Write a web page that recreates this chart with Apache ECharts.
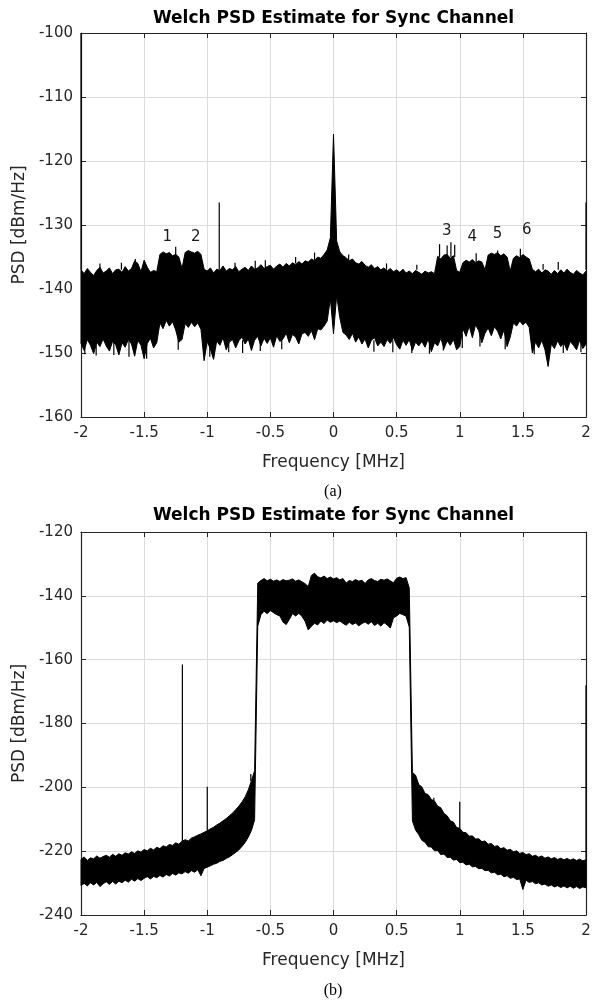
<!DOCTYPE html>
<html><head><meta charset="utf-8">
<script src="https://cdn.jsdelivr.net/npm/echarts@6/dist/echarts.min.js"></script>
<style>html,body{margin:0;padding:0;background:#fff}#c{width:594px;height:1002px}</style>
</head><body><div id="c"></div>
<script>
// ---- Data ----
// Sample frequencies: -2 .. 2 MHz every 0.025 MHz (161 samples)
const freqStart = -2, freqStep = 0.025, freqCount = 161;

// (a) upper / lower envelope of the PSD trace [dBm/Hz]
const topUpper = [
 -137.0,-137.6,-136.8,-137.4, -137.9,-137.1,-136.6,-137.5, -137.2,-136.7,-137.6,-137.0, -136.9,-137.4,-136.5,-137.2,
 -136.8,-135.6,-136.0,-137.3, -135.5,-136.6,-137.4,-137.1, -137.3,-134.6,-134.2,-134.5, -134.3,-134.8,-134.6,-135.0,
 -136.8,-134.3,-134.0,-134.2, -134.4,-134.1,-134.6,-136.9, -137.2,-136.7,-137.5,-136.9, -137.1,-136.4,-137.2,-136.8,
 -137.0,-136.5,-137.3,-136.9, -136.6,-137.1,-136.4,-136.9, -136.7,-136.2,-136.8,-136.5, -136.3,-136.9,-136.4,-136.1,
 -136.6,-136.0,-136.4,-135.9, -136.2,-135.7,-136.1,-135.6, -135.8,-135.3,-135.6,-135.0, -135.2,-134.6,-133.9,-132.0,
 -115.8,-132.5,-134.2,-134.8, -135.1,-135.6,-135.3,-135.9, -136.1,-135.7,-136.3,-136.6, -136.2,-136.8,-136.5,-137.0,
 -136.7,-137.2,-136.8,-137.3, -137.0,-137.4,-136.9,-137.5, -137.2,-137.6,-137.1,-137.4, -137.7,-137.2,-137.5,-137.3,
 -137.6,-134.9,-135.3,-134.7, -134.6,-135.2,-134.8,-137.1, -137.4,-135.9,-135.5,-135.8, -135.4,-135.9,-135.6,-135.8,
 -137.0,-134.7,-134.4,-134.6, -134.3,-134.8,-134.5,-135.0, -137.2,-135.2,-134.8,-135.1, -134.6,-135.0,-135.3,-136.9,
 -137.3,-136.9,-137.5,-137.0, -137.2,-137.7,-137.1,-137.6, -137.0,-137.5,-136.9,-137.4, -137.7,-137.1,-137.5,-137.8,
 -137.2
];
const topLower = [
 -148.5,-149.6,-147.9,-148.8, -150.1,-148.3,-149.0,-147.8, -148.9,-149.7,-148.2,-148.7, -150.3,-148.4,-149.1,-147.9,
 -148.6,-150.5,-148.0,-148.8, -150.9,-148.5,-147.7,-149.2, -148.4,-145.3,-146.2,-144.9, -145.8,-145.1,-146.4,-148.3,
 -147.9,-145.4,-146.0,-145.2, -145.9,-145.3,-146.3,-151.2, -148.2,-149.4,-151.0,-148.1, -148.8,-147.6,-149.5,-148.3,
 -147.9,-149.2,-148.1,-147.5, -148.6,-147.8,-149.6,-148.0, -147.4,-148.9,-147.7,-148.5, -147.6,-149.1,-147.3,-148.2,
 -147.8,-146.9,-148.4,-147.1, -147.5,-148.6,-147.0,-146.8, -147.4,-146.5,-147.9,-146.2, -146.4,-145.8,-145.0,-141.5,
 -147.0,-141.0,-144.5,-146.8, -147.2,-147.9,-146.9,-148.3, -147.5,-148.6,-147.8,-149.2, -148.0,-147.6,-148.9,-148.3,
 -149.0,-147.9,-148.5,-147.6, -148.7,-149.4,-148.0,-148.8, -147.9,-149.6,-148.3,-148.9, -148.2,-149.1,-147.8,-149.8,
 -148.4,-148.9,-147.7,-149.3, -148.1,-148.8,-147.9,-149.5, -149.0,-146.2,-147.4,-145.8, -147.6,-145.6,-146.5,-148.4,
 -146.9,-146.1,-147.3,-145.9, -146.6,-147.8,-146.4,-149.0, -147.5,-145.3,-145.8,-145.0, -145.6,-145.2,-146.0,-150.0,
 -148.3,-149.2,-148.0,-149.5, -152.1,-148.6,-149.3,-148.1, -149.0,-148.4,-149.6,-148.2, -148.8,-149.5,-148.0,-149.3,
 -148.6
];
// (a) isolated spikes: frequency, foot, tip
const topSpikeFreq = [-2.0, -1.57, -1.25, -0.905, -0.62, -0.54, -0.30, 0.84, 0.90, 0.93, 0.96, 1.13, 1.30, 1.48, 2.0,
  -1.85, -1.68, -0.78, -0.15, 0.12, 0.42, 0.66, 1.66, 1.78,
  -1.97, -1.88, -1.74, -1.62, -1.48, -1.23, -0.98, -0.83, -0.72, -0.58, -0.41, 0.32, 0.47, 0.62, 0.76, 0.87, 1.02, 1.16, 1.36, 1.59, 1.82, 1.96];
const topSpikeBase = [-137, -137, -135, -137, -137, -137, -136, -135, -135, -135, -135, -136, -135, -135, -137,
  -137, -137, -137, -135.5, -135.5, -137, -137, -137, -137,
  -148, -148, -148, -148, -148, -147, -148, -148, -148, -148, -147, -148, -148, -148, -148, -148, -147, -147, -147, -148, -148, -148];
const topSpikePeak = [-100, -135.3, -133.4, -126.5, -135.6, -135.5, -135.0, -133.0, -133.2, -132.7, -133.1, -134.4, -134.0, -133.7, -126.5,
  -136.0, -135.9, -135.9, -134.3, -134.6, -136.0, -136.2, -136.1, -135.8,
  -150.2, -150.4, -150.3, -150.6, -150.9, -149.5, -150.6, -149.9, -150.0, -149.7, -149.4, -149.8, -149.9, -150.0, -150.1, -149.6, -149.2, -149.0, -149.4, -150.2, -150.0, -149.9];
// (a) numbered markers
const markerText = ['1', '2', '3', '4', '5', '6'];
const markerFreq = [-1.317, -1.09, 0.897, 1.10, 1.30, 1.53];
const markerDb   = [-131.9, -131.9, -131.0, -131.9, -131.4, -130.8];

// (b) upper / lower envelope
const botUpper = [
 -222.6,-221.8,-222.9,-222.1, -222.4,-221.5,-222.2,-221.7, -221.3,-221.9,-221.0,-221.6, -220.8,-221.3,-220.5,-220.9,
 -220.2,-220.7,-219.9,-220.3, -219.5,-219.9,-219.1,-219.6, -218.8,-219.2,-218.3,-218.7, -217.9,-218.2,-217.4,-217.8,
 -216.9,-216.4,-216.8,-215.9, -215.5,-215.0,-214.6,-214.1, -213.6,-213.0,-212.5,-211.8, -211.2,-210.5,-209.8,-208.9,
 -208.1,-207.0,-205.9,-204.6, -203.0,-200.8,-197.9,-194.8, -136.0,-135.2,-134.6,-135.3, -134.8,-135.4,-135.0,-135.5,
 -134.9,-135.3,-135.1,-134.7, -135.4,-135.0,-135.6,-136.2, -137.1,-133.6,-132.9,-134.0, -134.4,-133.8,-134.6,-134.1,
 -134.7,-134.3,-135.0,-134.6, -136.0,-135.2,-135.5,-134.9, -135.4,-135.1,-136.1,-135.0, -134.6,-135.2,-135.5,-134.8,
 -135.1,-134.7,-135.3,-135.9, -134.5,-134.1,-134.6,-134.3, -137.5,-195.3,-196.2,-199.1, -199.9,-201.9,-202.3,-203.8,
 -204.3,-205.9,-206.4,-208.2, -208.9,-210.5,-210.9,-212.6, -212.8,-214.1,-214.2,-215.3, -215.2,-216.2,-216.1,-217.0,
 -216.8,-217.8,-217.6,-218.5, -218.3,-219.2,-218.9,-219.7, -219.4,-220.2,-219.9,-220.7, -220.4,-221.1,-220.8,-221.6,
 -221.3,-221.9,-221.5,-222.2, -221.8,-222.4,-222.0,-222.6, -222.2,-222.7,-222.3,-222.8, -222.4,-222.9,-222.5,-223.0,
 -222.7
];
const botLower = [
 -230.8,-230.1,-230.9,-229.9, -230.6,-229.8,-231.1,-230.2, -229.6,-230.4,-229.5,-230.3, -229.4,-229.9,-229.1,-229.7,
 -228.8,-229.4,-228.6,-229.2, -228.5,-228.0,-228.7,-227.9, -228.3,-227.6,-228.1,-227.3, -227.8,-227.0,-227.5,-226.8,
 -227.1,-226.4,-226.9,-226.1, -226.6,-225.8,-227.7,-225.4, -225.0,-224.6,-224.1,-223.8, -223.2,-222.9,-222.3,-221.8,
 -221.1,-220.4,-219.6,-218.5, -217.3,-215.6,-213.5,-210.2, -149.5,-145.9,-144.8,-145.6, -144.6,-145.3,-145.9,-146.3,
 -148.2,-149.0,-147.4,-145.6, -146.3,-145.5,-146.4,-148.0, -150.7,-149.5,-148.6,-149.1, -147.9,-148.7,-147.6,-148.3,
 -147.8,-148.4,-147.9,-148.6, -149.2,-148.3,-149.0,-148.5, -149.4,-148.7,-148.2,-148.9, -148.1,-149.3,-148.6,-149.5,
 -148.4,-149.1,-150.1,-146.9, -146.3,-145.5,-145.9,-146.4, -149.8,-210.5,-213.4,-214.8, -216.6,-217.2,-218.6,-218.7,
 -219.9,-219.8,-221.1,-220.9, -222.0,-221.9,-222.8,-222.6, -223.6,-223.5,-224.3,-224.1, -224.9,-224.8,-225.5,-225.4,
 -226.1,-226.0,-226.8,-226.6, -227.4,-227.2,-228.0,-227.7, -228.5,-228.2,-228.9,-228.7, -232.0,-229.1,-229.8,-229.5,
 -230.2,-229.9,-230.6,-230.3, -231.0,-230.6,-231.2,-230.8, -231.4,-230.9,-231.5,-231.0, -231.6,-231.1,-231.7,-231.2,
 -231.5
];
const botSpikeFreq = [-1.197, -1.0, -0.655, 0.795, 1.0, 2.0];
const botSpikeBase = [-217, -213.6, -198, -204.3, -212.8, -222.7];
const botSpikePeak = [-161.5, -199.8, -195.8, -203.3, -204.5, -168];

// axis ranges / ticks
const xRange = [-2, 2], xInterval = 0.5;
const topYRange = [-160, -100], topYInterval = 10;
const botYRange = [-240, -120], botYInterval = 20;
const titleText = 'Welch PSD Estimate for Sync Channel';
const xName = 'Frequency [MHz]';
const yName = 'PSD [dBm/Hz]';
const captions = ['(a)', '(b)'];

// ---- Build chart ----
const freqs = [];
for (let i = 0; i < freqCount; i++) freqs.push(+(freqStart + i * freqStep).toFixed(3));

const FONT = 'DejaVu Sans';
const AX = '#262626';
const GRIDC = '#dcdcdc';

function bandSeries(gi, upper, lower) {
  return {
    type: 'custom', xAxisIndex: gi * 2, yAxisIndex: gi * 2, silent: true, animation: false, z: 3,
    data: [[freqs[0], upper[0]]],
    renderItem: function (params, api) {
      const pts = [];
      for (let i = 0; i < freqs.length; i++) pts.push(api.coord([freqs[i], upper[i]]));
      for (let i = freqs.length - 1; i >= 0; i--) pts.push(api.coord([freqs[i], lower[i]]));
      return { type: 'polygon', shape: { points: pts }, style: { fill: '#000', stroke: '#000', lineWidth: 1 } };
    }
  };
}
function spikeSeries(gi, f, b, p) {
  return {
    type: 'custom', xAxisIndex: gi * 2, yAxisIndex: gi * 2, silent: true, animation: false, z: 4,
    encode: { x: 0, y: [1, 2] },
    data: f.map((v, i) => [v, b[i], p[i]]),
    renderItem: function (params, api) {
      const a = api.coord([api.value(0), api.value(1)]);
      const c = api.coord([api.value(0), api.value(2)]);
      return { type: 'line', shape: { x1: a[0], y1: a[1], x2: c[0], y2: c[1] }, style: { stroke: '#000', lineWidth: 1.2 } };
    }
  };
}
function markerSeries() {
  return {
    type: 'custom', xAxisIndex: 0, yAxisIndex: 0, silent: true, animation: false, z: 5,
    data: markerFreq.map((v, i) => [v, markerDb[i]]),
    renderItem: function (params, api) {
      const p = api.coord([api.value(0), api.value(1)]);
      return { type: 'text', x: p[0], y: p[1], style: { text: markerText[params.dataIndex], fill: '#1a1a1a', font: '15px "' + FONT + '"', align: 'center', verticalAlign: 'middle' } };
    }
  };
}

function xAxes(gi) {
  return [
    { gridIndex: gi, type: 'value', min: xRange[0], max: xRange[1], interval: xInterval, position: 'bottom',
      name: xName, nameLocation: 'middle', nameGap: 37,
      nameTextStyle: { fontFamily: FONT, fontSize: 17, color: AX },
      axisLine: { show: true, onZero: false, lineStyle: { color: AX, width: 1.2 } },
      axisTick: { show: true, inside: true, length: 5, lineStyle: { color: AX } },
      axisLabel: { fontFamily: FONT, fontSize: 15, color: AX, margin: 9 },
      splitLine: { show: true, lineStyle: { color: GRIDC, width: 1 } } },
    { gridIndex: gi, type: 'value', min: xRange[0], max: xRange[1], interval: xInterval, position: 'top',
      axisLine: { show: true, onZero: false, lineStyle: { color: AX, width: 1.2 } },
      axisTick: { show: true, inside: true, length: 5, lineStyle: { color: AX } },
      axisLabel: { show: false }, splitLine: { show: false } }
  ];
}
function yAxes(gi, range, interval) {
  return [
    { gridIndex: gi, type: 'value', min: range[0], max: range[1], interval: interval, position: 'left',
      name: yName, nameLocation: 'middle', nameGap: 46,
      nameTextStyle: { fontFamily: FONT, fontSize: 17, color: AX },
      axisLine: { show: true, onZero: false, lineStyle: { color: AX, width: 1.2 } },
      axisTick: { show: true, inside: true, length: 5, lineStyle: { color: AX } },
      axisLabel: { fontFamily: FONT, fontSize: 15, color: AX, margin: 8 },
      splitLine: { show: true, lineStyle: { color: GRIDC, width: 1 } } },
    { gridIndex: gi, type: 'value', min: range[0], max: range[1], interval: interval, position: 'right',
      axisLine: { show: true, onZero: false, lineStyle: { color: AX, width: 1.2 } },
      axisTick: { show: true, inside: true, length: 5, lineStyle: { color: AX } },
      axisLabel: { show: false }, splitLine: { show: false } }
  ];
}

const chart = echarts.init(document.getElementById('c'), null, { renderer: 'canvas' });
chart.setOption({
  backgroundColor: '#fff',
  animation: false,
  grid: [
    { left: 81, top: 33, width: 505, height: 384 },
    { left: 81, top: 532, width: 505, height: 383 }
  ],
  xAxis: xAxes(0).concat(xAxes(1)),
  yAxis: yAxes(0, topYRange, topYInterval).concat(yAxes(1, botYRange, botYInterval)),
  series: [
    bandSeries(0, topUpper, topLower),
    spikeSeries(0, topSpikeFreq, topSpikeBase, topSpikePeak),
    markerSeries(),
    bandSeries(1, botUpper, botLower),
    spikeSeries(1, botSpikeFreq, botSpikeBase, botSpikePeak)
  ],
  graphic: [
    { type: 'text', x: 333.5, y: 18.5, style: { text: titleText, font: 'bold 17px "' + FONT + '"', fill: '#000', align: 'center', verticalAlign: 'middle' } },
    { type: 'text', x: 333.5, y: 516, style: { text: titleText, font: 'bold 17px "' + FONT + '"', fill: '#000', align: 'center', verticalAlign: 'middle' } },
    { type: 'text', x: 333, y: 492, style: { text: captions[0], font: '16px "Liberation Serif"', fill: '#000', align: 'center', verticalAlign: 'middle' } },
    { type: 'text', x: 333, y: 991, style: { text: captions[1], font: '16px "Liberation Serif"', fill: '#000', align: 'center', verticalAlign: 'middle' } }
  ]
});
</script>
</body></html>
